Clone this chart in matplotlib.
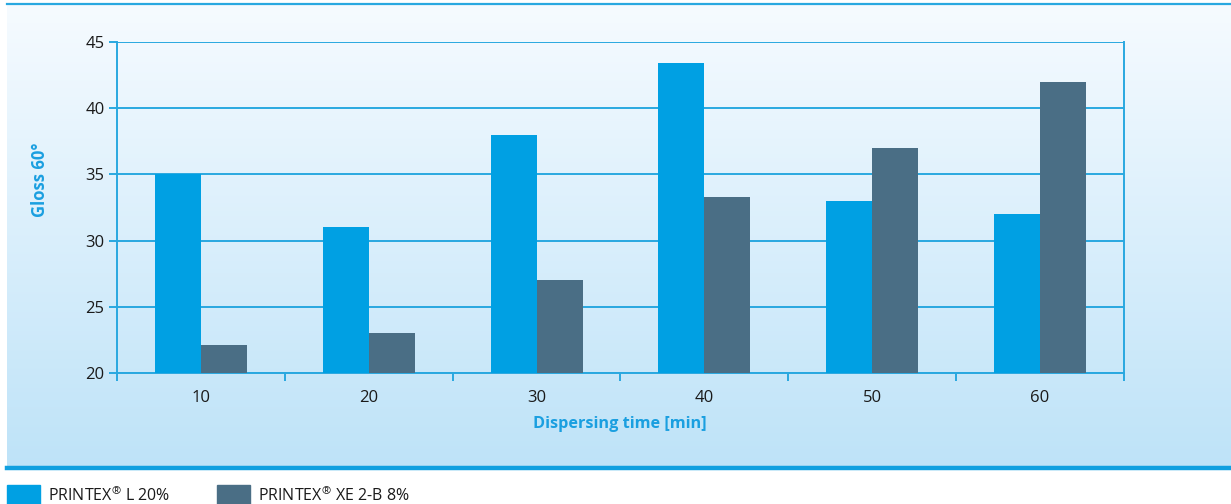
import numpy as np
import matplotlib
matplotlib.use("Agg")
import matplotlib.pyplot as plt
from matplotlib.patches import Rectangle

# ---- data ----
dispersing_time = [10, 20, 30, 40, 50, 60]
gloss_printex_l = [35.0, 31.0, 38.0, 43.4, 33.0, 32.0]
gloss_printex_xe = [22.1, 23.0, 27.0, 33.3, 37.0, 42.0]
series_names = ["PRINTEX$^{®}$ L 20%", "PRINTEX$^{®}$ XE 2-B 8%"]

col_l = "#00a0e3"
col_xe = "#4a6e85"
col_line = "#29a8e0"
col_label = "#1a9fe0"

plt.rcParams["font.family"] = ["Open Sans", "DejaVu Sans"]
plt.rcParams["mathtext.fontset"] = "custom"
plt.rcParams["mathtext.rm"] = "Open Sans"
plt.rcParams["mathtext.it"] = "Open Sans"
plt.rcParams["mathtext.bf"] = "Open Sans:bold"

W, H = 1231, 504
fig = plt.figure(figsize=(W / 100, H / 100), dpi=100)

def fx(px):
    return px / W

def fy(py):
    return 1 - py / H

# fondo degradado del panel
bg = fig.add_axes([fx(7), fy(467), fx(W - 7), (467 - 5) / H], zorder=0)
grad = np.linspace(0, 1, 256).reshape(-1, 1)
top_c = np.array([0.965, 0.984, 1.0])
bot_c = np.array([0.745, 0.890, 0.973])
img = top_c + (bot_c - top_c) * grad[:, :, None]
bg.imshow(img, aspect="auto", extent=[0, 1, 0, 1], origin="upper")
bg.axis("off")

# lineas superior e inferior del panel
fig.add_artist(plt.Line2D([fx(7), 1], [fy(4), fy(4)], color=col_line, lw=1.6))
fig.add_artist(plt.Line2D([fx(7), 1], [fy(468), fy(468)], color="#10a0e0", lw=3.2))

# ---- grafica principal ----
ax = fig.add_axes([fx(117), fy(373), fx(1124 - 117), (373 - 42) / H], zorder=1)
ax.patch.set_alpha(0)

x = np.arange(len(dispersing_time))
bw = 0.274
ax.bar(x - bw / 2, gloss_printex_l, width=bw, color=col_l, zorder=3)
ax.bar(x + bw / 2, gloss_printex_xe, width=bw, color=col_xe, zorder=3)

ax.set_ylim(20, 45)
ax.set_xlim(-0.5, len(x) - 0.5)
ax.set_yticks([20, 25, 30, 35, 40, 45])
ax.yaxis.grid(True, color=col_line, lw=1.4, zorder=1)
ax.set_axisbelow(True)

# ticks del eje x en los limites de categoria, etiquetas al centro
ax.set_xticks(np.arange(-0.5, len(x), 1.0))
ax.set_xticklabels([])
ax.set_xticks(x, minor=True)
ax.set_xticklabels([str(t) for t in dispersing_time], minor=True)
ax.tick_params(axis="x", which="major", length=6, width=1.4, color=col_line)
ax.tick_params(axis="x", which="minor", length=0, pad=12, labelsize=12, labelcolor="#1a1a1a")
ax.tick_params(axis="y", length=6, width=1.4, color=col_line, labelsize=12,
               labelcolor="#1a1a1a", pad=3)

for s in ["left", "bottom", "right"]:
    ax.spines[s].set_color(col_line)
    ax.spines[s].set_linewidth(1.4)
ax.spines["top"].set_visible(False)
ax.spines["right"].set_bounds(20, 45)

fig.text(fx(620), fy(424), "Dispersing time [min]", ha="center", va="center",
         fontsize=11.7, fontweight="bold", color=col_label)
fig.text(fx(40), fy(180), "Gloss 60°", ha="center", va="center", rotation=90,
         fontsize=12, fontweight="bold", color=col_label)

# leyenda
leg_x = [7, 217]
for xi, name, c in zip(leg_x, series_names, [col_l, col_xe]):
    fig.add_artist(Rectangle((fx(xi), fy(504)), fx(33), 19 / H, color=c,
                             transform=fig.transFigure))
    fig.text(fx(xi + 41), fy(501), name, ha="left", va="baseline",
             fontsize=11.5, color="#1a1a1a")

fig.savefig("out.png", dpi=100)
